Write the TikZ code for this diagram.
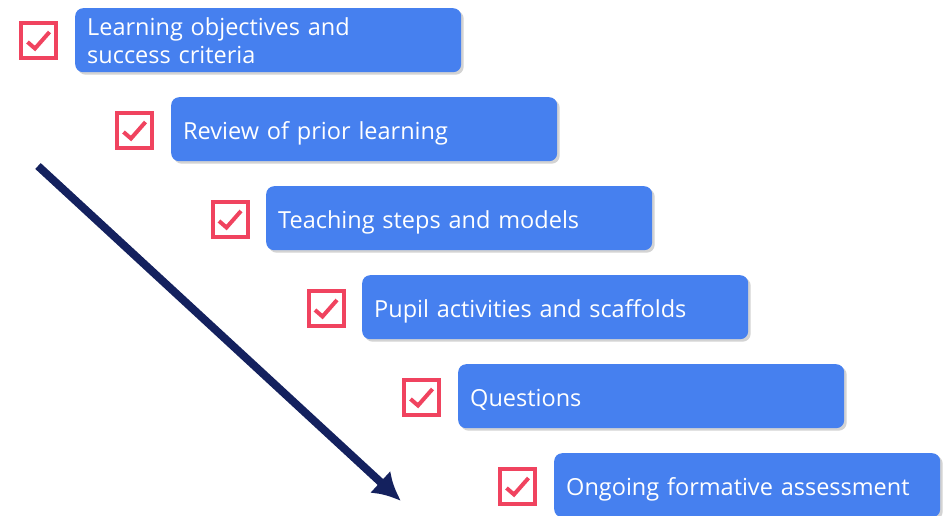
\documentclass[tikz,border=0pt]{standalone}
\usepackage{fontspec}
\setmainfont{Open Sans}
\usepackage{xcolor}
\usepackage{tikz}
\usetikzlibrary{positioning,arrows.meta,shadows}

\definecolor{stepblue}{HTML}{4680EF}
\definecolor{tickred}{HTML}{F0435F}
\definecolor{arrownavy}{HTML}{14215E}

\tikzset{
  stepbox/.style={rectangle, rounded corners=8pt, fill=stepblue, text=white,
    anchor=north west, minimum width=386pt, minimum height=64pt,
    text width=362pt, inner xsep=12pt, align=left,
    font=\fontsize{23.5}{28.5}\selectfont, text height=20pt, text depth=0pt,
    drop shadow={shadow xshift=2.5pt, shadow yshift=-2.5pt, opacity=0.35, fill=gray}},
  tickbox/.style={rectangle, draw=tickred, line width=4pt, minimum size=35pt,
    inner sep=0pt, anchor=center,
    path picture={\draw[tickred, line width=4pt, shift={(path picture bounding box.center)}]
      (-11pt,-2pt) -- (-3.5pt,-8.5pt) -- (11pt,8pt);}}
}

\begin{document}
\begin{tikzpicture}[x=1pt,y=1pt]
\useasboundingbox (0,0) rectangle (946,-515);

% Steps of the lesson
\node[stepbox, text height=18.5pt, text depth=28.5pt] (s1) at (75,-8) {Learning objectives and\\success criteria};
\node[stepbox] (s2) at (171,-97) {Review of prior learning};
\node[stepbox] (s3) at (266,-186) {Teaching steps and models};
\node[stepbox] (s4) at (362,-275) {Pupil activities and scaffolds};
\node[stepbox] (s5) at (458,-364) {Questions};
\node[stepbox] (s6) at (554,-453) {Ongoing formative assessment};

% Tick boxes
\node[tickbox] (t1) at (38.5,-40) {};
\node[tickbox] (t2) at (134.5,-130) {};
\node[tickbox] (t3) at (230,-219) {};
\node[tickbox] (t4) at (326,-308) {};
\node[tickbox] (t5) at (421.5,-397) {};
\node[tickbox] (t6) at (517.5,-486) {};

% Direction arrow
\coordinate (arrowstart) at (38,-166);
\coordinate (arrowend) at (401,-501);
\draw[arrownavy, line width=8pt, -{Latex[length=28pt,width=30pt]}] (arrowstart) -- (arrowend);
\end{tikzpicture}
\end{document}
